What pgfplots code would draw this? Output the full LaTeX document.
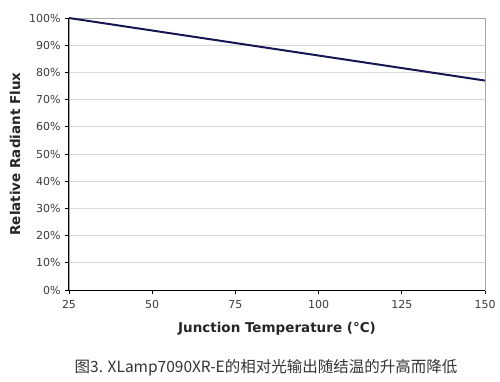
\documentclass[border=0pt]{standalone}
\usepackage{fontspec}
\setmainfont{DejaVu Sans}
\newfontfamily\cjk{Noto Sans CJK SC}
\usepackage{pgfplots}
\pgfplotsset{compat=1.18}
\definecolor{navy}{RGB}{22,22,82}
\definecolor{tl}{RGB}{60,60,60}
\definecolor{gridc}{RGB}{215,215,215}
\begin{document}
\begin{tikzpicture}
\begin{axis}[
  scale only axis, width=416pt, height=272pt,
  xmin=25, xmax=150, ymin=0, ymax=100,
  xtick={25,50,75,100,125,150},
  ytick={0,10,20,30,40,50,60,70,80,90,100},
  yticklabel={\pgfmathprintnumber{\tick}\%},
  /pgf/number format/assume math mode=true,
  ymajorgrids, grid style={draw=gridc, line width=0.9pt},
  axis line style={draw=gray!70, line width=0.9pt},
  xtick pos=bottom, ytick pos=left, tick align=outside,
  major tick length=4pt, tick style={black, line width=0.8pt},
  ticklabel style={font=\fontsize{11}{13}\selectfont, text=tl},
  xticklabel style={yshift=-3pt},
  yticklabel style={xshift=-1pt},
  xlabel={\textbf{Junction Temperature (°C)}},
  ylabel={\textbf{Relative Radiant Flux}},
  label style={font=\fontsize{13.5}{15}\selectfont, text=black!85},
  xlabel style={at={(axis description cs:0.5,0)}, anchor=center, yshift=-39pt},
  ylabel style={at={(axis description cs:0,0.5)}, anchor=center, yshift=54pt},
  clip=false,
]
\addplot[color=navy, line width=2pt] coordinates {(25,100) (50,95.4) (75,90.8) (100,86.2) (125,81.6) (150,77)};
\draw[black, line width=1pt] (rel axis cs:0,1) -- (rel axis cs:0,0) -- (rel axis cs:1,0);
\node[font=\cjk\fontsize{15.5}{17}\selectfont, text=black!80, anchor=center] at ([xshift=197pt,yshift=-78pt]rel axis cs:0,0) {图3. XLamp7090XR-E的相对光输出随结温的升高而降低};
\path ([xshift=-69pt,yshift=-91pt]rel axis cs:0,0) rectangle ([xshift=15pt,yshift=18pt]rel axis cs:1,1);
\end{axis}
\end{tikzpicture}
\end{document}
